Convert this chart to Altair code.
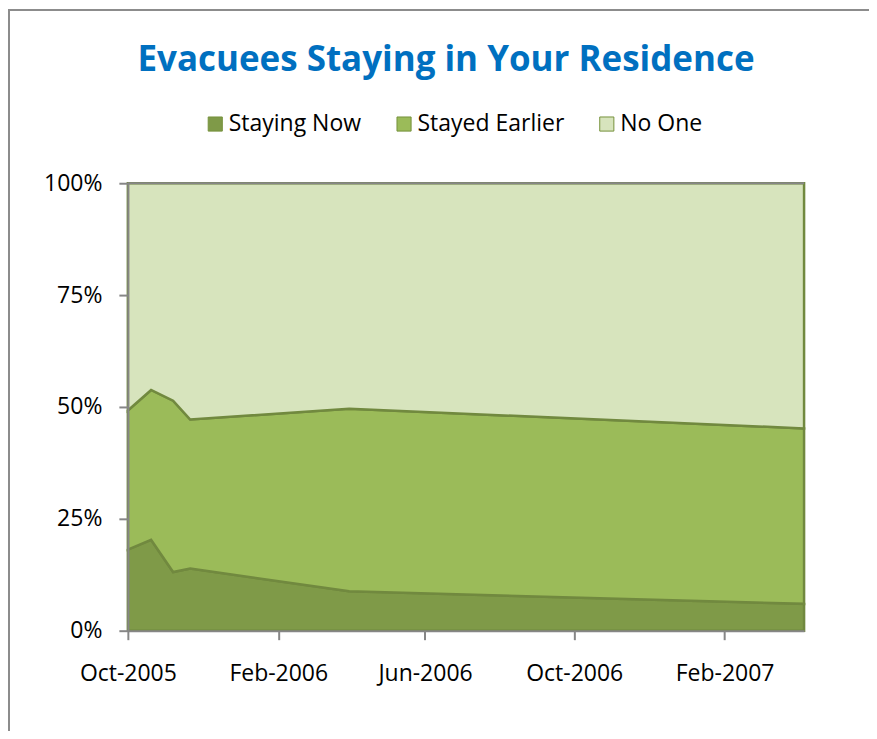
import altair as alt
import pandas as pd

# ---- data ----
dates = ["2005-10-01T00:00:00", "2005-10-20T00:00:00", "2005-11-07T00:00:00",
         "2005-11-21T00:00:00", "2006-03-31T00:00:00", "2007-04-07T00:00:00"]
staying_now = [18.1, 20.3, 13.1, 13.9, 8.8, 6.0]
stayed_earlier = [31.1, 33.5, 38.3, 33.3, 40.8, 39.2]
no_one = [50.8, 46.2, 48.6, 52.8, 50.4, 54.8]

series_names = ["Staying Now", "Stayed Earlier", "No One"]
series_values = [staying_now, stayed_earlier, no_one]
fill_colors = ["#7F9A48", "#9BBB59", "#D7E4BD"]

rows = []
for k, (name, vals) in enumerate(zip(series_names, series_values)):
    for d, v in zip(dates, vals):
        rows.append({"date": d, "series": name, "value": v / 100.0, "k": k})
df = pd.DataFrame(rows)

FONT = "Open Sans"
GRAY = "#868686"

x_enc = alt.X(
    "date:T",
    scale=alt.Scale(domain=[alt.DateTime(year=2005, month=10, date=1),
                            alt.DateTime(year=2007, month=4, date=7)]),
    axis=alt.Axis(
        title=None,
        values=[alt.DateTime(year=2005, month=10, date=1),
                alt.DateTime(year=2006, month=2, date=1),
                alt.DateTime(year=2006, month=6, date=1),
                alt.DateTime(year=2006, month=10, date=1),
                alt.DateTime(year=2007, month=2, date=1)],
        format="%b-%Y",
        labelFont=FONT, labelFontSize=23, labelColor="#000000",
        labelPadding=23, tickSize=9, tickColor=GRAY, tickWidth=2,
        domainColor=GRAY, domainWidth=2, grid=False, labelFlush=False,
        zindex=2,
    ),
)

areas = alt.Chart(df).mark_area(stroke="#71893F", strokeWidth=2.5).encode(
    x=x_enc,
    y=alt.Y(
        "value:Q",
        stack=True,
        scale=alt.Scale(domain=[0, 1]),
        axis=alt.Axis(
            title=None, values=[0, 0.25, 0.5, 0.75, 1], format=".0%",
            labelFont=FONT, labelFontSize=23, labelColor="#000000",
            labelPadding=17, tickSize=9, tickColor=GRAY, tickWidth=2,
            domainColor=GRAY, domainWidth=2, grid=False, zindex=2,
        ),
    ),
    color=alt.Color(
        "series:N",
        scale=alt.Scale(domain=series_names, range=fill_colors),
        legend=alt.Legend(
            title=None, orient="none", direction="horizontal",
            legendX=76, legendY=-71, padding=0,
            symbolType="square", symbolSize=200, symbolStrokeColor="#76923C",
            symbolStrokeWidth=1, symbolOpacity=1,
            labelFont=FONT, labelFontSize=23, labelColor="#000000",
            labelOffset=2, columnPadding=31,
        ),
    ),
    order=alt.Order("k:Q"),
)

top_rule = alt.Chart(pd.DataFrame({"v": [1.0]})).mark_rule(
    color=GRAY, strokeWidth=2
).encode(y=alt.Y("v:Q"))

frame = alt.Chart(pd.DataFrame({"a": [0]})).mark_rect(
    fillOpacity=0, stroke="#8C8C8C", strokeWidth=2, clip=False
).encode(
    x=alt.value(-119), x2=alt.value(820),
    y=alt.value(-173.5), y2=alt.value(600),
)

chart = alt.layer(frame, areas, top_rule).properties(
    width=677, height=448,
    autosize=alt.AutoSizeParams(type="none"),
    padding={"left": 120, "top": 175, "right": 65, "bottom": 100},
    title=alt.Title(
        "Evacuees Staying in Your Residence",
        font=FONT, fontSize=35, fontWeight="bold", color="#0070C0",
        anchor="middle", frame="group", offset=-97, dx=-20,
        baseline="alphabetic",
    ),
).configure_view(stroke=None)

chart.save("out.html", embed_options={"renderer": "svg", "actions": False})
